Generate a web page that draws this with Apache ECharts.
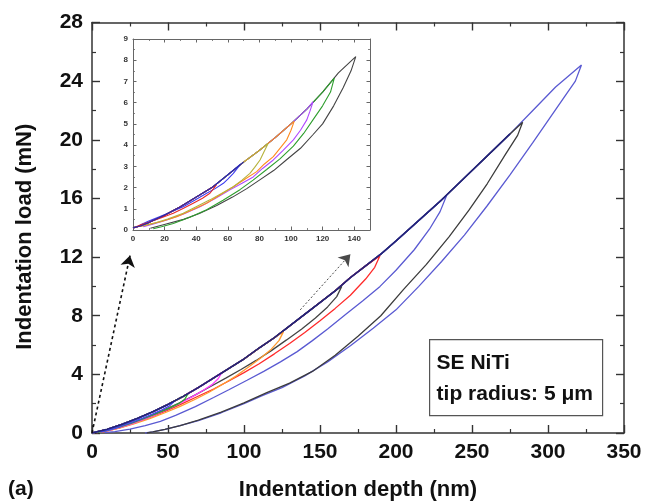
<!DOCTYPE html>
<html>
<head>
<meta charset="utf-8">
<script src="https://cdn.jsdelivr.net/npm/echarts@6/dist/echarts.min.js"></script>
<style>
html,body{margin:0;padding:0;background:#fff;}
#chart{width:647px;height:504px;}
</style>
</head>
<body>
<div id="chart"></div>
<script>
// ---------- main plot: common loading envelope (depth nm, load mN) ----------
const mainEnvDepth = [0, 10, 20, 30, 40, 50, 60, 70, 80, 90, 100, 110, 120, 130, 140, 150, 160, 170, 180, 190, 200, 215, 230, 245, 260, 275, 290, 305, 322];
const mainEnvLoad  = [0, 0.25, 0.6, 1.0, 1.45, 1.95, 2.5, 3.1, 3.75, 4.4, 5.05, 5.8, 6.5, 7.3, 8.1, 8.9, 9.7, 10.6, 11.4, 12.2, 13.1, 14.5, 15.9, 17.4, 18.9, 20.4, 22.0, 23.6, 25.1];

// ---------- main plot: unloading branches (first point = peak) ----------
const unloadBlue25 = [[322,25.1],[318,24.0],[310,22.8],[300,21.3],[290,19.8],[275,17.6],[260,15.5],[245,13.5],[230,11.7],[215,10.0],[200,8.4],[185,7.15],[170,5.95],[155,4.85],[140,3.9],[125,3.1],[112,2.55],[100,2.0],[85,1.38],[70,0.85],[58,0.5],[48,0.25],[40,0.08],[35,0]];
const unloadBlack21 = [[283.3,21.2],[280,20.3],[272,19.0],[260,17.0],[248,15.2],[235,13.4],[220,11.5],[205,9.8],[190,8.0],[175,6.6],[160,5.3],[145,4.2],[130,3.4],[115,2.75],[100,2.05],[85,1.42],[70,0.88],[58,0.5],[48,0.25],[40,0.08],[36,0]];
const unloadBlue16 = [[233.3,16.2],[229,15.1],[222,13.9],[212,12.5],[200,11.1],[189.5,10.0],[178,9.0],[167,8.1],[155,7.1],[145,6.3],[135,5.55],[124,4.85],[113,4.2],[102,3.6],[90,2.95],[80,2.42],[68,1.8],[55,1.2],[45,0.8],[35,0.5],[25,0.27],[15,0.1],[8,0.02]];
const unloadRed12 = [[189.5,12.1],[186,11.3],[180,10.5],[170,9.4],[160,8.5],[150,7.65],[140,6.85],[130,6.1],[120,5.4],[110,4.72],[100,4.12],[90,3.55],[80,3.0],[68,2.42],[58,1.93],[48,1.48],[38,1.06],[28,0.68],[18,0.35],[8,0.1],[3,0.02]];
const unloadBlack10 = [[164.3,10.0],[161,9.3],[155,8.6],[147,7.85],[138,7.1],[128,6.35],[118,5.62],[108,4.95],[98,4.33],[88,3.74],[78,3.17],[68,2.6],[58,2.08],[48,1.6],[38,1.16],[28,0.77],[18,0.42],[8,0.12],[3,0.03]];
const unloadOrange7 = [[125.9,6.9],[123,6.3],[118,5.72],[111,5.12],[103,4.5],[95,3.9],[86,3.33],[77,2.78],[68,2.3],[58,1.82],[48,1.38],[38,0.98],[28,0.64],[18,0.33],[8,0.1],[3,0.02]];
const unloadMagenta4 = [[85.3,4.1],[83,3.7],[79,3.3],[73,2.9],[66,2.48],[58,2.03],[50,1.63],[42,1.26],[34,0.92],[26,0.62],[18,0.36],[10,0.15],[4,0.04]];
const unloadGreen3 = [[63,2.65],[61,2.3],[57,2.0],[50,1.65],[42,1.3],[34,0.98],[26,0.68],[18,0.4],[10,0.17],[4,0.04]];
const unloadBlue2 = [[54,2.15],[51,1.85],[46,1.58],[40,1.3],[33,1.0],[26,0.72],[19,0.46],[12,0.23],[6,0.07]];

// ---------- inset: loading envelope ----------
const insetEnvDepth = [0, 5, 10, 20, 30, 40, 50, 60, 70, 80, 90, 100, 110, 120, 130, 141];
const insetEnvLoad  = [0.1, 0.2, 0.35, 0.7, 1.1, 1.55, 2.0, 2.6, 3.2, 3.75, 4.35, 5.0, 5.7, 6.5, 7.4, 8.17];

// ---------- inset: unloading branches ----------
const insetBlack = [[141,8.17],[138,7.5],[133,6.7],[127,5.85],[120,5.0],[114,4.5],[106,3.85],[97,3.3],[89,2.8],[80,2.35],[72,1.95],[63,1.55],[53,1.15],[42,0.78],[32,0.5],[21,0.28],[11,0.08]];
const insetGreen = [[127.4,7.16],[125,6.5],[120,5.85],[114,5.2],[108,4.55],[101.5,3.95],[93,3.35],[84.6,2.85],[76,2.35],[67.7,1.9],[57,1.4],[46.6,0.95],[36,0.6],[25.5,0.31],[18,0.15],[12.8,0.06]];
const insetViolet = [[114,6.05],[112,5.6],[110,5.19],[106,4.7],[101.5,4.25],[95,3.75],[88.8,3.3],[82,2.9],[76.1,2.5],[69,2.2],[61.4,1.89],[52,1.48],[42.4,1.1],[32,0.75],[21.3,0.47],[13,0.28],[6.5,0.16]];
const insetOrange = [[102,5.12],[100,4.7],[97.3,4.25],[93,3.85],[88.8,3.46],[83,3.1],[78.3,2.75],[71,2.4],[63.5,2.04],[55,1.65],[46.6,1.26],[37,0.93],[27.7,0.63],[18,0.4],[8.7,0.24],[3,0.15]];
const insetOlive = [[85.6,4.09],[83,3.7],[80.4,3.3],[77,2.95],[74,2.67],[69,2.35],[63.5,2.04],[56,1.72],[48.7,1.42],[40,1.1],[31.8,0.79],[22,0.52],[12.8,0.31],[5,0.18]];
const insetBlue = [[68,3.1],[66,2.9],[63.5,2.67],[60,2.4],[57.2,2.2],[52,1.95],[46.6,1.73],[39,1.4],[31.8,1.1],[24,0.85],[17.1,0.63],[10,0.42],[4.4,0.24]];
const insetRed = [[53,2.15],[51,1.95],[48.7,1.73],[44,1.5],[38.1,1.26],[32,1.02],[25.5,0.79],[18,0.58],[10.8,0.39],[5,0.25],[2.3,0.16]];

// ---------- arrows (data coords of main plot) ----------
const arrowLeft  = [[0, 0], [25, 12.1]];
const arrowRight = [[137, 8.4], [170, 12.2]];

// ---------- axis ticks ----------
const mainXTicks = {min: 0, max: 350, step: 50};
const mainYTicks = {min: 0, max: 28, step: 4};
const insetXTicks = {min: 0, max: 150, step: 20};
const insetYTicks = {min: 0, max: 9, step: 1};

function loopData(envD, envL, unload) {
  const peak = unload[0][0];
  const pts = [];
  for (let i = 0; i < envD.length; i++) {
    if (envD[i] < peak) pts.push([envD[i], envL[i]]);
  }
  return pts.concat(unload);
}
function envUpTo(envD, envL, limit) {
  const pts = [];
  for (let i = 0; i < envD.length; i++) {
    if (envD[i] <= limit) pts.push([envD[i], envL[i]]);
  }
  return pts;
}

const FONT = '"Liberation Sans", Arial, sans-serif';

function mk(name, data, color, gi, width, z) {
  return {
    name: name,
    type: 'line',
    xAxisIndex: gi * 2,
    yAxisIndex: gi * 2,
    data: data,
    showSymbol: false,
    symbol: 'none',
    smooth: false,
    animation: false,
    silent: true,
    z: z || 2,
    lineStyle: {color: color, width: width, opacity: 1}
  };
}

const mainLoops = [
  ['blue25', unloadBlue25, '#5a5ad2'],
  ['black21', unloadBlack21, '#3c3c3c'],
  ['blue16', unloadBlue16, '#5a5ad2'],
  ['red12', unloadRed12, '#ff2a2a'],
  ['black10', unloadBlack10, '#444444'],
  ['orange7', unloadOrange7, '#ff9a2e'],
  ['magenta4', unloadMagenta4, '#ff3cff'],
  ['green3', unloadGreen3, '#2fa52f'],
  ['blue2', unloadBlue2, '#4848f0']
];
const insetLoops = [
  ['iBlack', insetBlack, '#444444'],
  ['iGreen', insetGreen, '#2e9e2e'],
  ['iViolet', insetViolet, '#b048ff'],
  ['iOrange', insetOrange, '#ff8a1e'],
  ['iOlive', insetOlive, '#b6b23a'],
  ['iBlue', insetBlue, '#3c3cf0'],
  ['iRed', insetRed, '#e82a2a']
];

const series = [];
mainLoops.forEach(function (l) {
  series.push(mk(l[0], loopData(mainEnvDepth, mainEnvLoad, l[1]), l[2], 0, 1.3));
});
// overlapping loading segments look dark navy in the original
series.push(mk('mainEnvelope', envUpTo(mainEnvDepth, mainEnvLoad, 283.3), '#23237a', 0, 1.6, 3));
insetLoops.forEach(function (l) {
  series.push(mk(l[0], loopData(insetEnvDepth, insetEnvLoad, l[1]), l[2], 1, 1.1));
});
series.push(mk('insetEnvelope', envUpTo(insetEnvDepth, insetEnvLoad, 70), '#2b2ba8', 1, 1.2, 3));

// arrows
series.push({
  type: 'line', xAxisIndex: 0, yAxisIndex: 0, data: [], silent: true, animation: false, z: 4,
  markLine: {
    silent: true, animation: false,
    symbol: ['none', 'arrow'], symbolSize: 11,
    label: {show: false},
    emphasis: {disabled: true},
    data: [
      [{coord: arrowLeft[0], lineStyle: {color: '#111', width: 1.6, type: [3, 3]}}, {coord: arrowLeft[1]}],
      [{coord: arrowRight[0], lineStyle: {color: '#4a4a4a', width: 1, type: [2, 2]}}, {coord: arrowRight[1]}]
    ]
  }
});

function axisCommon(t, main, show, hideMax) {
  const c = main ? '#333' : '#666';
  return {
    type: 'value', min: t.min, max: t.max, interval: t.step,
    splitLine: {show: false},
    axisLine: {show: true, onZero: false, lineStyle: {color: c, width: main ? 1.5 : 1}},
    axisTick: {show: true, inside: true, length: main ? 8 : 3.5, lineStyle: {color: c, width: main ? 1.4 : 1}},
    minorTick: {show: true, splitNumber: 2, length: main ? 4 : 2, lineStyle: {color: c, width: main ? 1.2 : 0.8}},
    axisLabel: show ? {
      show: true, color: main ? '#111' : '#333', fontFamily: FONT, fontWeight: 'bold',
      fontSize: main ? 21 : 8, margin: main ? 9 : 5, showMaxLabel: !hideMax
    } : {show: false}
  };
}

const option = {
  backgroundColor: '#fff',
  animation: false,
  grid: [
    {left: 92, top: 22.5, right: 23, bottom: 71, show: false, outerBoundsMode: 'none'},
    {left: 133, top: 39, right: 277, bottom: 274, show: true, backgroundColor: '#fff', borderWidth: 0, outerBoundsMode: 'none'}
  ],
  xAxis: [
    Object.assign(axisCommon(mainXTicks, true, true, false), {gridIndex: 0, position: 'bottom',
      name: 'Indentation depth (nm)', nameLocation: 'middle', nameGap: 46,
      nameTextStyle: {fontFamily: FONT, fontWeight: 'bold', fontSize: 22, color: '#111'}}),
    Object.assign(axisCommon(mainXTicks, true, false, false), {gridIndex: 0, position: 'top'}),
    Object.assign(axisCommon(insetXTicks, false, true, true), {gridIndex: 1, position: 'bottom'}),
    Object.assign(axisCommon(insetXTicks, false, false, false), {gridIndex: 1, position: 'top'})
  ],
  yAxis: [
    Object.assign(axisCommon(mainYTicks, true, true, false), {gridIndex: 0, position: 'left',
      name: 'Indentation load (mN)', nameLocation: 'middle', nameGap: 56,
      nameTextStyle: {fontFamily: FONT, fontWeight: 'bold', fontSize: 22, color: '#111', padding: [0, 18, 0, 0]}}),
    Object.assign(axisCommon(mainYTicks, true, false, false), {gridIndex: 0, position: 'right'}),
    Object.assign(axisCommon(insetYTicks, false, true, false), {gridIndex: 1, position: 'left'}),
    Object.assign(axisCommon(insetYTicks, false, false, false), {gridIndex: 1, position: 'right'})
  ],
  series: series,
  graphic: [
    {type: 'text', left: 8, top: 479, style: {text: '(a)', font: 'bold 21px ' + FONT, fill: '#111'}},
    {type: 'group', left: 429, top: 339, children: [
      {type: 'rect', shape: {x: 0, y: 0, width: 173, height: 76}, style: {fill: '#fff', stroke: '#555', lineWidth: 1.2}},
      {type: 'text', x: 7, y: 13, style: {text: 'SE NiTi', font: 'bold 21px ' + FONT, fill: '#111'}},
      {type: 'text', x: 7, y: 44, style: {text: 'tip radius: 5 \u03bcm', font: 'bold 21px ' + FONT, fill: '#111'}}
    ]}
  ]
};

const chart = echarts.init(document.getElementById('chart'), null, {renderer: 'canvas'});
chart.setOption(option);
</script>
</body>
</html>
